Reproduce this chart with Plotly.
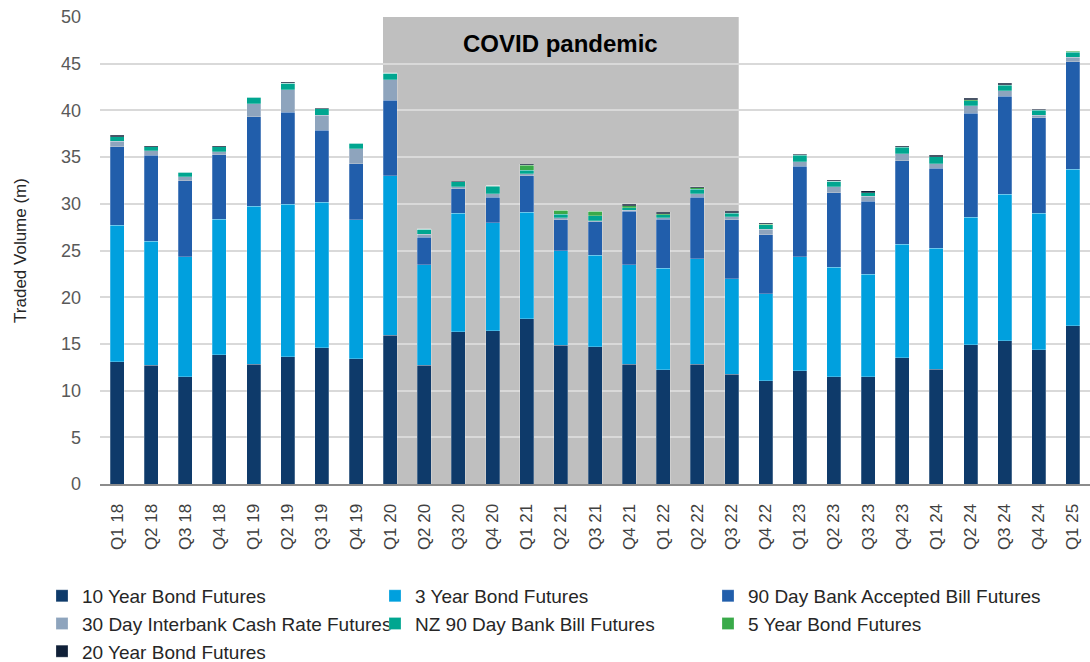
import plotly.graph_objects as go

quarters = ["Q1 18", "Q2 18", "Q3 18", "Q4 18", "Q1 19", "Q2 19", "Q3 19", "Q4 19",
            "Q1 20", "Q2 20", "Q3 20", "Q4 20", "Q1 21", "Q2 21", "Q3 21", "Q4 21",
            "Q1 22", "Q2 22", "Q3 22", "Q4 22", "Q1 23", "Q2 23", "Q3 23", "Q4 23",
            "Q1 24", "Q2 24", "Q3 24", "Q4 24", "Q1 25"]

# Traded volume by contract, millions
bond_10y = [13.1, 12.7, 11.5, 13.85, 12.8, 13.6, 14.6, 13.4,
            15.95, 12.7, 16.3, 16.4, 17.7, 14.85, 14.7, 12.8,
            12.25, 12.8, 11.75, 11.05, 12.1, 11.5, 11.5, 13.5,
            12.3, 14.9, 15.35, 14.4, 16.95]
bond_3y = [14.6, 13.3, 12.85, 14.5, 16.95, 16.35, 15.55, 14.9,
           17.05, 10.75, 12.7, 11.55, 11.4, 10.1, 9.8, 10.65,
           10.85, 11.3, 10.25, 9.3, 12.25, 11.7, 10.95, 12.15,
           12.95, 13.65, 15.65, 14.6, 16.75]
bab_90d = [8.4, 9.2, 8.1, 6.9, 9.55, 9.85, 7.75, 6.0,
           8.1, 2.95, 2.6, 2.75, 3.9, 3.35, 3.6, 5.75,
           5.25, 6.6, 6.3, 6.35, 9.65, 8.0, 7.85, 8.95,
           8.55, 11.15, 10.5, 10.2, 11.5]
cash_30d = [0.6, 0.5, 0.45, 0.3, 1.4, 2.4, 1.6, 1.6,
            2.2, 0.35, 0.25, 0.35, 0.2, 0.2, 0.1, 0.1,
            0.15, 0.35, 0.3, 0.55, 0.5, 0.65, 0.5, 0.75,
            0.5, 0.8, 0.6, 0.3, 0.5]
nz_90d = [0.5, 0.4, 0.5, 0.55, 0.7, 0.7, 0.7, 0.6,
          0.7, 0.55, 0.5, 0.85, 0.4, 0.4, 0.5, 0.3,
          0.35, 0.5, 0.4, 0.5, 0.7, 0.55, 0.4, 0.7,
          0.75, 0.55, 0.6, 0.5, 0.5]
bond_5y = [0, 0, 0, 0, 0, 0, 0, 0,
           0, 0, 0, 0.05, 0.55, 0.4, 0.5, 0.2,
           0.1, 0.15, 0.05, 0.05, 0.05, 0, 0, 0.05,
           0, 0.1, 0.05, 0.05, 0.15]
bond_20y = [0.15, 0.1, 0.05, 0.1, 0.05, 0.1, 0.05, 0.05,
            0.05, 0.05, 0.05, 0.0, 0.1, 0.0, 0.0, 0.15,
            0.15, 0.1, 0.15, 0.1, 0.05, 0.1, 0.2, 0.1,
            0.15, 0.15, 0.15, 0.1, 0.05]

series = [
    ("10 Year Bond Futures", bond_10y, "#0E3A6A"),
    ("3 Year Bond Futures", bond_3y, "#00A0DE"),
    ("90 Day Bank Accepted Bill Futures", bab_90d, "#215EAB"),
    ("30 Day Interbank Cash Rate Futures", cash_30d, "#8EA4BD"),
    ("NZ 90 Day Bank Bill Futures", nz_90d, "#00A690"),
    ("5 Year Bond Futures", bond_5y, "#39AA49"),
    ("20 Year Bond Futures", bond_20y, "#102038"),
]

fig = go.Figure()
for name, vals, color in series:
    fig.add_trace(go.Bar(
        x=quarters, y=vals, name=name,
        marker=dict(color=color, line=dict(color="rgba(255,255,255,0.3)", width=0.8)),
    ))

# Shaded band for the pandemic period (Q1 20 to Q3 22)
fig.add_shape(type="rect", xref="x", yref="y",
              x0=7.79, x1=18.21, y0=0, y1=50,
              fillcolor="#BFBFBF", line=dict(width=0), layer="below")
fig.add_annotation(x=13, y=47.2, xref="x", yref="y", text="<b>COVID pandemic</b>",
                   showarrow=False, font=dict(size=24, color="#000000",
                                              family="Liberation Sans, Arial"))

fig.update_layout(
    width=1090, height=662,
    margin=dict(l=100, r=0, t=17, b=178, autoexpand=False),
    barmode="stack", bargap=0.59,
    plot_bgcolor="white", paper_bgcolor="white",
    font=dict(family="Liberation Sans, Arial", color="#404040"),
    showlegend=True,
    legend=dict(orientation="h", x=-0.0586, y=-0.199, xanchor="left", yanchor="top",
                traceorder="normal", entrywidth=288, entrywidthmode="pixels",
                font=dict(size=19, color="#262626"), bgcolor="rgba(0,0,0,0)",
                itemclick=False, tracegroupgap=0),
)
fig.update_xaxes(
    type="category", range=[-0.5, 28.5], tickangle=-90,
    tickfont=dict(size=17, color="#404040"), showgrid=False,
    showline=True, linecolor="#8C8C8C", linewidth=2, ticks="",
    ticklabelstandoff=11,
)
fig.update_yaxes(
    range=[0, 50], dtick=5, tick0=0,
    tickfont=dict(size=18, color="#595959"),
    showgrid=True, gridcolor="#D9D9D9", gridwidth=2, zeroline=False,
    ticks="", ticklabelstandoff=18,
    title=dict(text="Traded Volume (m)", font=dict(size=17, color="#262626"), standoff=30),
)

fig.write_html("out.html")
